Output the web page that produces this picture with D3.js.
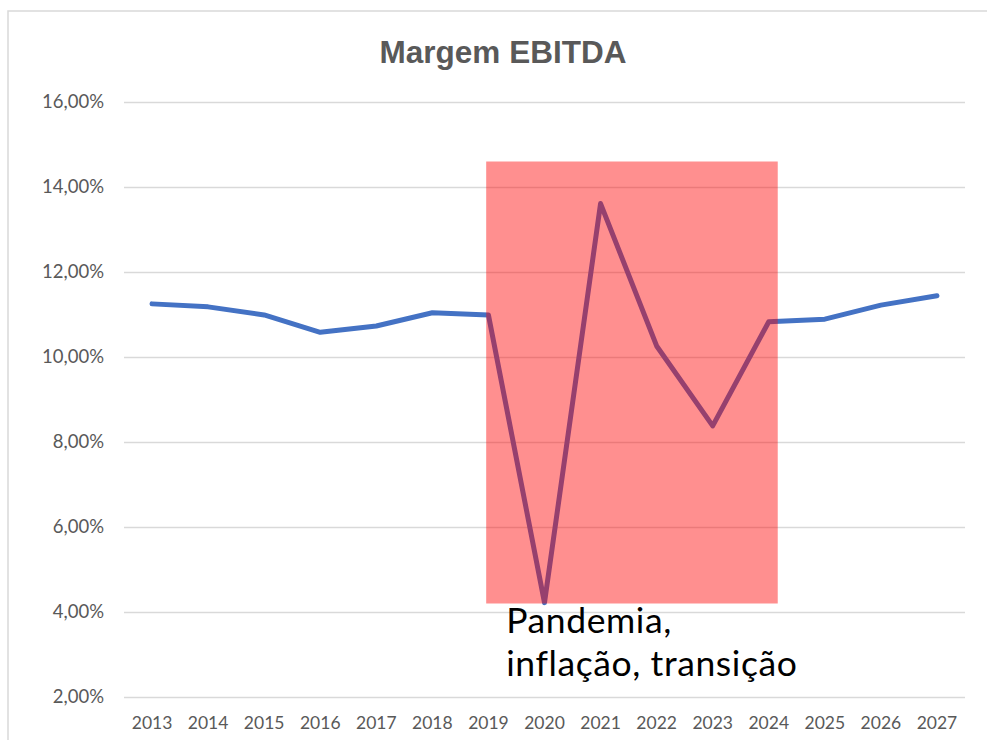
<!DOCTYPE html>
<html>
<head>
<meta charset="utf-8">
<script src="https://cdn.jsdelivr.net/npm/d3@7"></script>
<style>
  body { margin: 0; background: #fff; }
  svg { display: block; }
</style>
</head>
<body>
<script>
// Chart data
const years = [2013, 2014, 2015, 2016, 2017, 2018, 2019, 2020, 2021, 2022, 2023, 2024, 2025, 2026, 2027];
const margemEbitda = [11.25, 11.18, 10.99, 10.58, 10.73, 11.04, 10.99, 4.22, 13.61, 10.26, 8.38, 10.83, 10.89, 11.22, 11.44];
const yTicks = [2, 4, 6, 8, 10, 12, 14, 16];
const title = 'Margem EBITDA';
const annotationLines = ['Pandemia,', 'inflação, transição'];
// highlighted period (in years / percent)
const highlightYears = [2018.96, 2024.16];
const highlightRange = [4.2, 14.6];

const W = 987, H = 740;
const plot = { left: 124, right: 965, top: 102, bottom: 697 };

const svg = d3.select('body')
  .append('svg')
  .attr('width', W)
  .attr('height', H);

// chart frame (runs off the right / bottom edges)
svg.append('rect')
  .attr('x', 8)
  .attr('y', 11)
  .attr('width', 1100)
  .attr('height', 900)
  .attr('fill', '#fff')
  .attr('stroke', '#d9d9d9')
  .attr('stroke-width', 1.5);

// Scales
const xScale = d3.scaleBand()
  .domain(years)
  .range([plot.left, plot.right]);

const xYear = d3.scaleLinear()
  .domain([years[0] - 0.5, years[years.length - 1] + 0.5])
  .range([plot.left, plot.right]);

const yScale = d3.scaleLinear()
  .domain([2, 16])
  .range([plot.bottom, plot.top]);

const fmt = v => d3.format('.2f')(v).replace('.', ',') + '%';

// Title
svg.append('text')
  .attr('x', 503)
  .attr('y', 63)
  .attr('text-anchor', 'middle')
  .attr('font-family', 'Liberation Sans, Arial, sans-serif')
  .attr('font-weight', 'bold')
  .attr('font-size', 31.5)
  .attr('fill', '#595959')
  .text(title);

// Gridlines + y axis
const yAxis = d3.axisLeft(yScale)
  .tickValues(yTicks)
  .tickFormat(fmt)
  .tickSize(-(plot.right - plot.left))
  .tickPadding(20);

const yg = svg.append('g')
  .attr('class', 'y-axis')
  .attr('transform', `translate(${plot.left}, 0)`)
  .call(yAxis);

yg.select('.domain').remove();
yg.selectAll('.tick line')
  .attr('stroke', '#d9d9d9')
  .attr('stroke-width', 1.4);
yg.selectAll('.tick text')
  .attr('font-family', 'Lato, sans-serif')
  .attr('font-size', 18.5)
  .attr('fill', '#595959');

// x axis labels
const xAxis = d3.axisBottom(xScale)
  .tickSize(0)
  .tickPadding(20);

const xg = svg.append('g')
  .attr('class', 'x-axis')
  .attr('transform', `translate(0, ${plot.bottom})`)
  .call(xAxis);

xg.select('.domain').remove();
xg.selectAll('.tick text')
  .attr('font-family', 'Lato, sans-serif')
  .attr('font-size', 17.5)
  .attr('fill', '#595959');

// Line
const line = d3.line()
  .x((d, i) => xScale(years[i]) + xScale.bandwidth() / 2)
  .y(d => yScale(d));

svg.append('path')
  .datum(margemEbitda)
  .attr('fill', 'none')
  .attr('stroke', '#4472c4')
  .attr('stroke-width', 5)
  .attr('stroke-linejoin', 'round')
  .attr('stroke-linecap', 'round')
  .attr('d', line);

// Highlight box over the line
svg.append('rect')
  .attr('x', xYear(highlightYears[0]))
  .attr('y', yScale(highlightRange[1]))
  .attr('width', xYear(highlightYears[1]) - xYear(highlightYears[0]))
  .attr('height', yScale(highlightRange[0]) - yScale(highlightRange[1]))
  .attr('fill', '#ff0000')
  .attr('fill-opacity', 0.44);

// Annotation
const note = svg.append('text')
  .attr('x', xYear(highlightYears[0]) + 20)
  .attr('y', 633)
  .attr('font-family', 'Lato, sans-serif')
  .attr('font-size', 35.5)
  .attr('letter-spacing', 0.6)
  .attr('fill', '#000');

note.selectAll('tspan')
  .data(annotationLines)
  .enter()
  .append('tspan')
  .attr('x', xYear(highlightYears[0]) + 20)
  .attr('dy', (d, i) => i === 0 ? 0 : 43)
  .text(d => d);
</script>
</body>
</html>
